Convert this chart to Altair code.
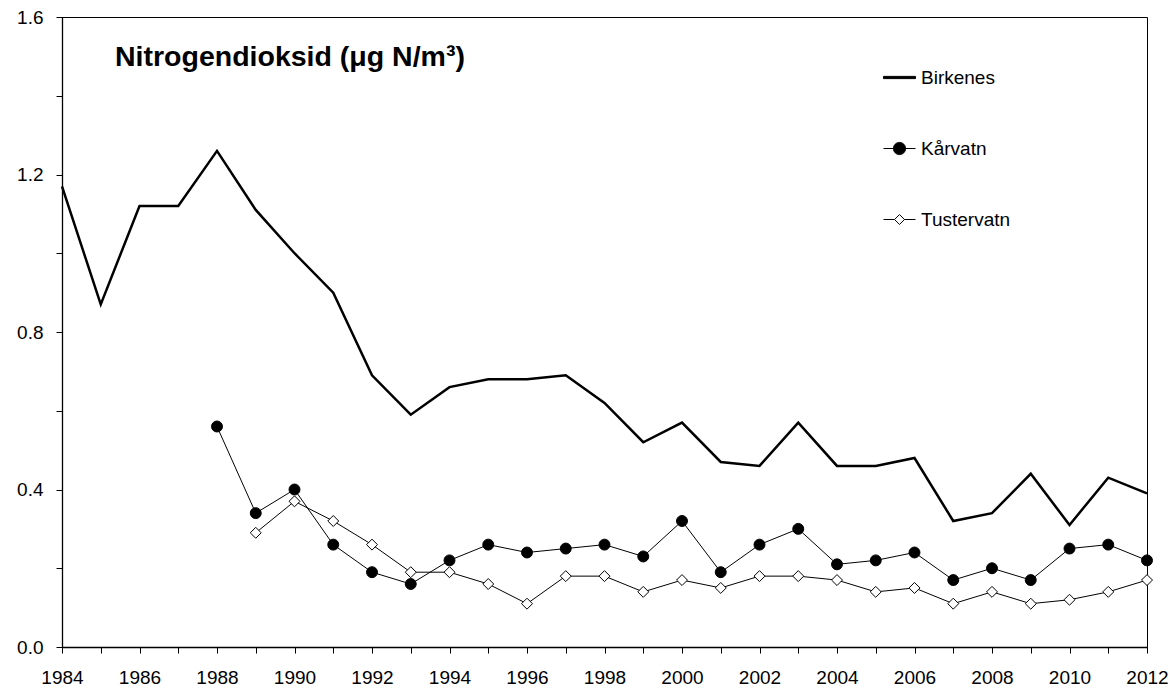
import altair as alt
import pandas as pd

years = list(range(1984, 2013))

birkenes = [1.17, 0.87, 1.12, 1.12, 1.26, 1.11, 1.00, 0.90, 0.69, 0.59,
            0.66, 0.68, 0.68, 0.69, 0.62, 0.52, 0.57, 0.47, 0.46, 0.57,
            0.46, 0.46, 0.48, 0.32, 0.34, 0.44, 0.31, 0.43, 0.39]

karvatn_years = list(range(1988, 2013))
karvatn = [0.56, 0.34, 0.40, 0.26, 0.19, 0.16, 0.22, 0.26, 0.24, 0.25,
           0.26, 0.23, 0.32, 0.19, 0.26, 0.30, 0.21, 0.22, 0.24, 0.17,
           0.20, 0.17, 0.25, 0.26, 0.22]

tuster_years = list(range(1989, 2013))
tustervatn = [0.29, 0.37, 0.32, 0.26, 0.19, 0.19, 0.16, 0.11, 0.18, 0.18,
              0.14, 0.17, 0.15, 0.18, 0.18, 0.17, 0.14, 0.15, 0.11, 0.14,
              0.11, 0.12, 0.14, 0.17]

series_names = ["Birkenes", "Kårvatn", "Tustervatn"]
title_text = "Nitrogendioksid (μg N/m³)"

rows = []
for y, v in zip(years, birkenes):
    rows.append({"year": y, "value": v, "series": "Birkenes"})
for y, v in zip(karvatn_years, karvatn):
    rows.append({"year": y, "value": v, "series": "Kårvatn"})
for y, v in zip(tuster_years, tustervatn):
    rows.append({"year": y, "value": v, "series": "Tustervatn"})
df = pd.DataFrame(rows)

FONT = "Liberation Sans"

x_enc = alt.X(
    "year:Q",
    scale=alt.Scale(domain=[1984, 2012], nice=False, zero=False),
    axis=alt.Axis(
        title=None,
        values=years,
        labelExpr="datum.value % 2 == 0 ? '' + datum.value : ''",
        labelOverlap=False,
        labelFlush=False,
        labelBound=False,
        grid=False,
    ),
)
y_enc = alt.Y(
    "value:Q",
    scale=alt.Scale(domain=[0, 1.6], nice=False, zero=True),
    axis=alt.Axis(
        title=None,
        values=[0, 0.2, 0.4, 0.6, 0.8, 1.0, 1.2, 1.4, 1.6],
        labelExpr="round(datum.value * 10) % 4 == 0 ? format(datum.value, '.1f') : ''",
        grid=False,
    ),
)

base = alt.Chart(df)

birk_line = base.transform_filter("datum.series == 'Birkenes'").mark_line(
    color="black", strokeWidth=2.5
).encode(x=x_enc, y=y_enc)

karv_line = base.transform_filter("datum.series == 'Kårvatn'").mark_line(
    color="black", strokeWidth=1
).encode(x=x_enc, y=y_enc)
karv_pts = base.transform_filter("datum.series == 'Kårvatn'").mark_point(
    shape="circle", filled=True, fill="black", stroke="black", strokeWidth=1,
    size=120, opacity=1
).encode(x=x_enc, y=y_enc)

tust_line = base.transform_filter("datum.series == 'Tustervatn'").mark_line(
    color="black", strokeWidth=1
).encode(x=x_enc, y=y_enc)
tust_pts = base.transform_filter("datum.series == 'Tustervatn'").mark_point(
    shape="diamond", filled=True, fill="white", stroke="black", strokeWidth=1,
    size=120, opacity=1
).encode(x=x_enc, y=y_enc)

# legend-only layer (no data rows drawn; legend built from explicit domain)
sym_birk = "M-1,-0.07L1,-0.07L1,0.07L-1,0.07Z"
sym_karv = "M-1,0L1,0M0.38,0A0.38,0.38 0 1,1 -0.38,0A0.38,0.38 0 1,1 0.38,0Z"
sym_tust = "M-1,0L-0.31,0M0.31,0L1,0M-0.31,0L0,-0.31L0.31,0L0,0.31Z"

leg = alt.Legend(
    title=None,
    orient="none",
    legendX=821,
    legendY=44,
    direction="vertical",
    labelFont=FONT,
    labelFontSize=19,
    labelColor="black",
    labelOffset=5,
    rowPadding=44,
    symbolSize=1024,
    symbolStrokeColor="black",
    symbolStrokeWidth=1,
    symbolOpacity=1,
    padding=0,
)

legend_layer = base.transform_filter("false").mark_point(
    filled=True, strokeWidth=1, size=1024, opacity=1
).encode(
    x=x_enc,
    y=y_enc,
    shape=alt.Shape(
        "series:N",
        scale=alt.Scale(domain=series_names, range=[sym_birk, sym_karv, sym_tust]),
        legend=leg,
    ),
    fill=alt.Fill(
        "series:N",
        scale=alt.Scale(domain=series_names, range=["black", "black", "white"]),
        legend=leg,
    ),
    stroke=alt.Stroke(
        "series:N",
        scale=alt.Scale(domain=series_names, range=["black", "black", "black"]),
        legend=leg,
    ),
)

chart = alt.layer(
    birk_line, karv_line, karv_pts, tust_line, tust_pts, legend_layer
).properties(
    width=1085,
    height=630,
    autosize=alt.AutoSizeParams(type="none"),
    padding={"left": 54, "top": 9, "right": 21, "bottom": 42},
    title=alt.TitleParams(
        text=title_text,
        anchor="start",
        frame="group",
        font=FONT,
        fontSize=28.5,
        fontWeight="bold",
        color="black",
        baseline="alphabetic",
        offset=0,
        dx=53,
        dy=86,
    ),
).configure_view(
    stroke="black", strokeWidth=1
).configure_axis(
    domainColor="black",
    domainWidth=1.3,
    tickColor="black",
    tickWidth=1,
    tickSize=6,
    labelFont=FONT,
    labelFontSize=19,
    labelColor="black",
).configure_axisY(
    labelPadding=13,
).configure_axisX(
    labelPadding=15,
)

chart.save("out.html", embed_options={"renderer": "svg", "actions": False})
